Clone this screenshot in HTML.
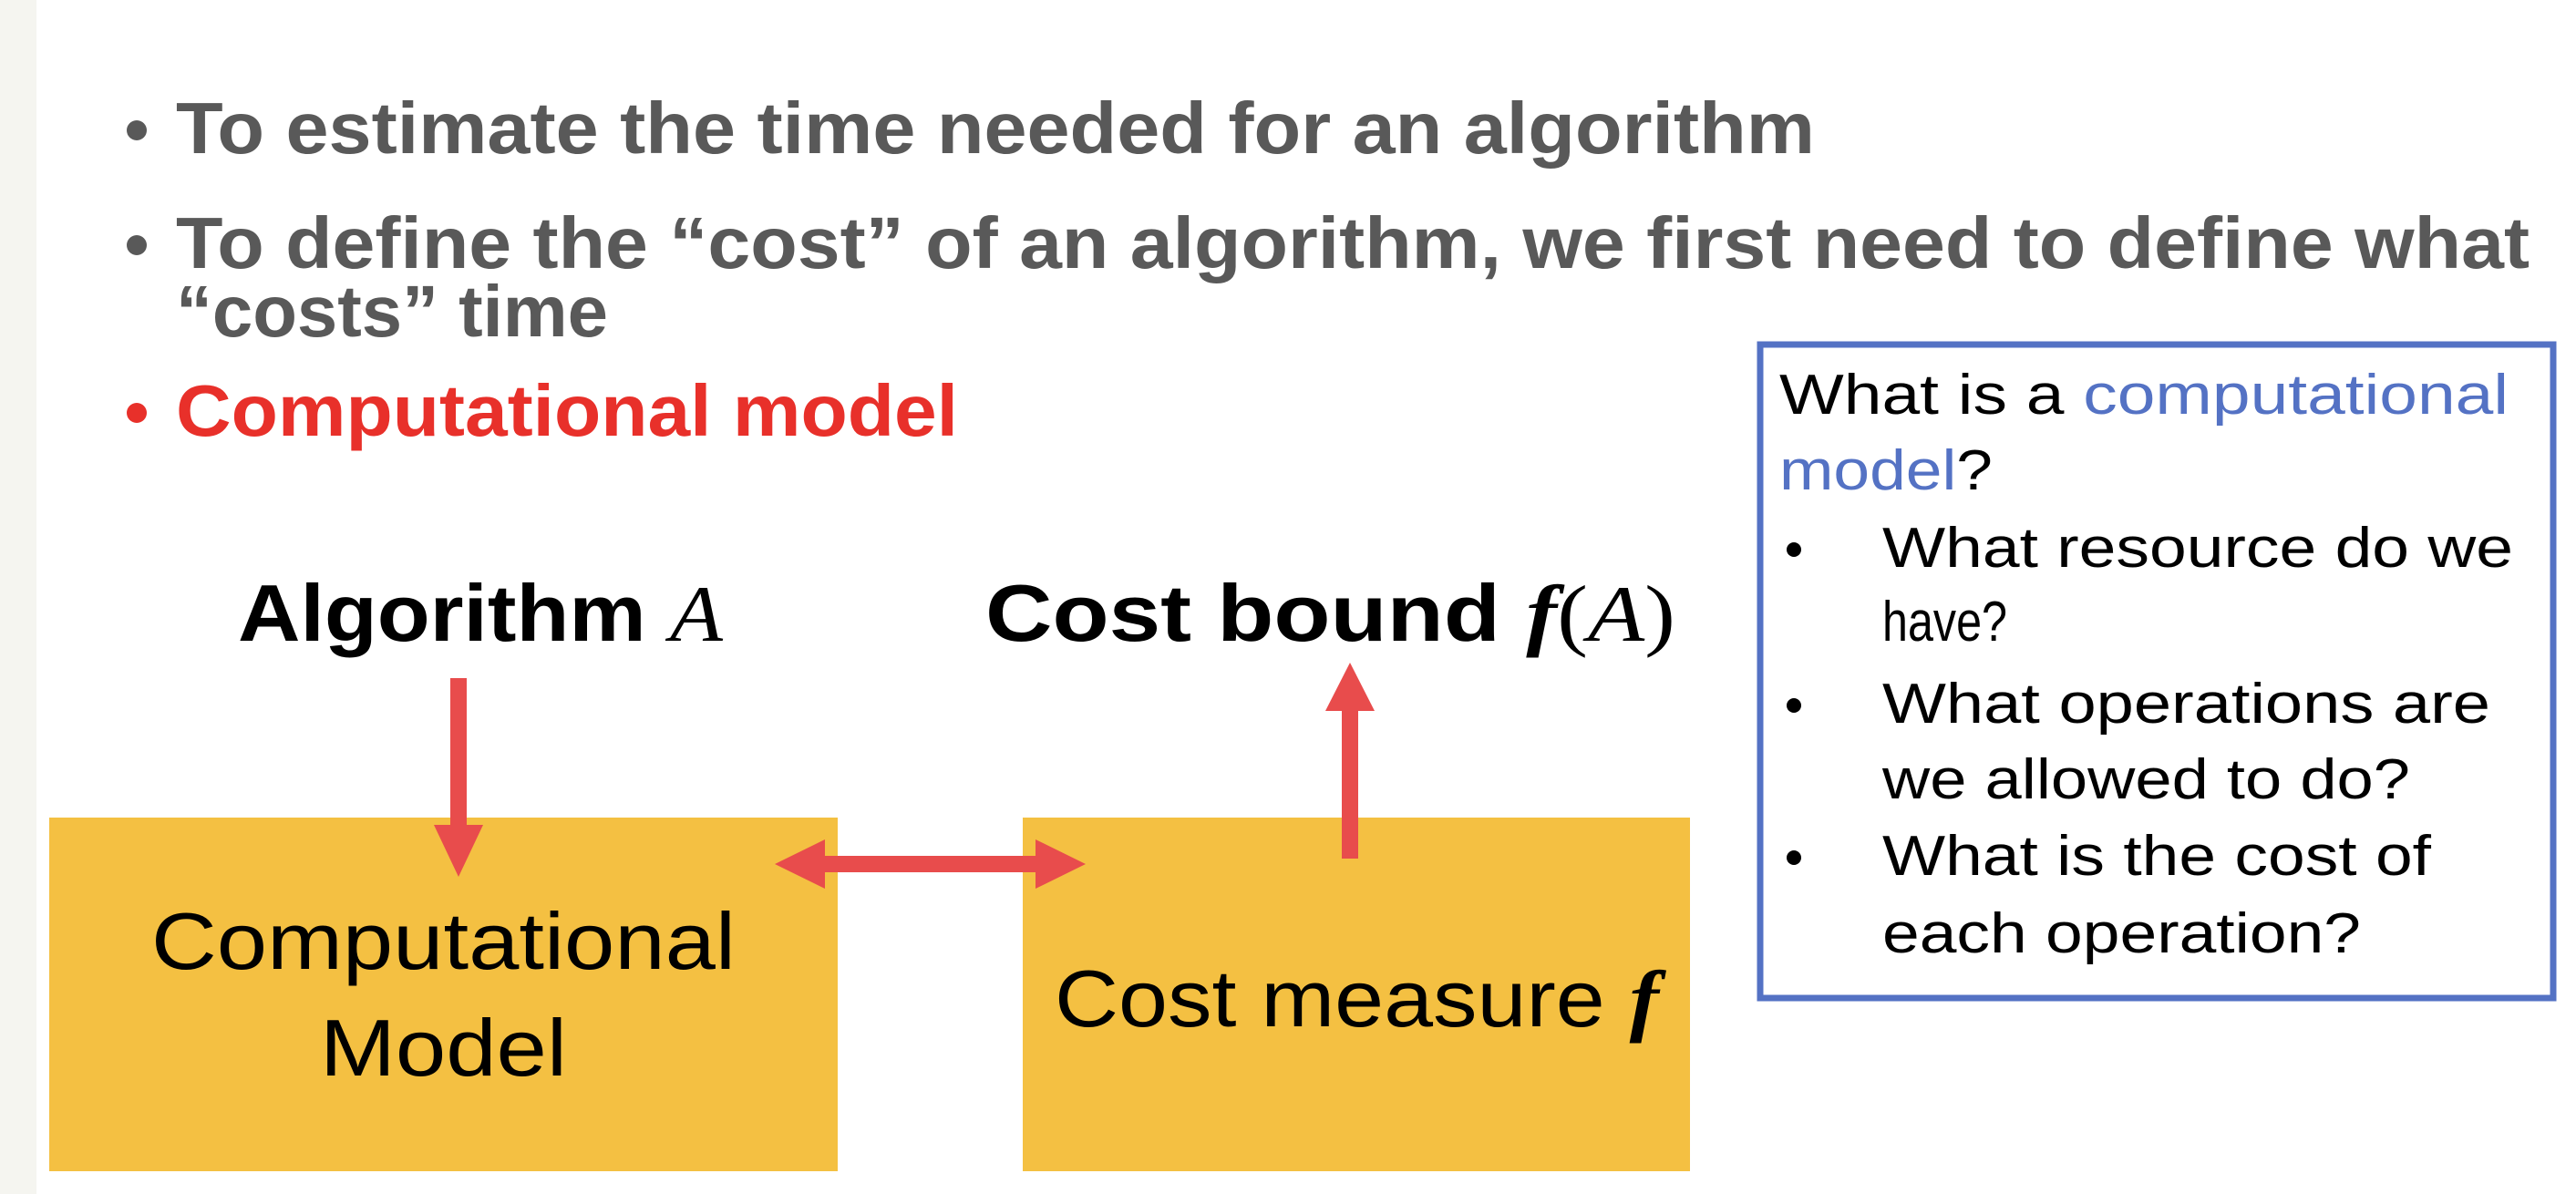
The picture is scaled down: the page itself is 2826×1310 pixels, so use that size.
<!DOCTYPE html>
<html><head><meta charset="utf-8"><style>
html,body{margin:0;padding:0;background:#fff;}
svg{display:block;}
</style></head><body>
<svg width="2826" height="1310" viewBox="0 0 2826 1310" xmlns="http://www.w3.org/2000/svg">
<rect x="0" y="0" width="2826" height="1310" fill="#fff"/>
<rect x="0" y="0" width="40" height="1310" fill="#f5f5f0"/>
<g font-family="Liberation Sans, sans-serif" font-weight="bold" font-size="80">
<circle cx="150" cy="143" r="11" fill="#595959"/>
<text x="193" y="168" fill="#595959" textLength="1798" lengthAdjust="spacingAndGlyphs">To estimate the time needed for an algorithm</text>
<circle cx="150" cy="269" r="11" fill="#595959"/>
<text x="193" y="294" fill="#595959" textLength="2582" lengthAdjust="spacingAndGlyphs">To define the “cost” of an algorithm, we first need to define what</text>
<text x="193" y="369" fill="#595959" textLength="474" lengthAdjust="spacingAndGlyphs">“costs” time</text>
<circle cx="150" cy="453" r="11" fill="#e8302a"/>
<text x="193" y="478" fill="#e8302a" textLength="858" lengthAdjust="spacingAndGlyphs">Computational model</text>
</g>
<rect x="1931" y="378" width="870" height="717" fill="none" stroke="#5472c4" stroke-width="7"/>
<g font-family="Liberation Sans, sans-serif" font-size="62" fill="#000">
<text x="1952" y="454" textLength="800" lengthAdjust="spacingAndGlyphs">What is a <tspan fill="#5472c4">computational</tspan></text>
<text x="1952" y="537" textLength="234" lengthAdjust="spacingAndGlyphs"><tspan fill="#5472c4">model</tspan>?</text>
<circle cx="1968" cy="603" r="8"/>
<text x="2065" y="622" textLength="692" lengthAdjust="spacingAndGlyphs">What resource do we</text>
<text x="2065" y="703" textLength="137" lengthAdjust="spacingAndGlyphs">have?</text>
<circle cx="1968" cy="774" r="8"/>
<text x="2065" y="793" textLength="667" lengthAdjust="spacingAndGlyphs">What operations are</text>
<text x="2065" y="876" textLength="579" lengthAdjust="spacingAndGlyphs">we allowed to do?</text>
<circle cx="1968" cy="941" r="8"/>
<text x="2065" y="960" textLength="602" lengthAdjust="spacingAndGlyphs">What is the cost of</text>
<text x="2065" y="1045" textLength="525" lengthAdjust="spacingAndGlyphs">each operation?</text>
</g>
<rect x="54" y="897" width="865" height="388" fill="#f4c042"/>
<rect x="1122" y="897" width="732" height="388" fill="#f4c042"/>
<g fill="#e84c4c">
<rect x="494" y="744" width="18" height="165"/>
<polygon points="476,905 530,905 503,962"/>
<rect x="1472" y="778" width="18" height="164"/>
<polygon points="1454,780 1508,780 1481,727"/>
<rect x="900" y="939" width="240" height="18"/>
<polygon points="905,921 905,975 850,948"/>
<polygon points="1136,921 1136,975 1191,948"/>
</g>
<g font-family="Liberation Sans, sans-serif" font-size="88" fill="#000">
<text x="261" y="703" font-weight="bold" textLength="532" lengthAdjust="spacingAndGlyphs">Algorithm <tspan font-family="Liberation Serif, serif" font-style="italic" font-weight="normal">A</tspan></text>
<text x="1081" y="703" font-weight="bold" textLength="757" lengthAdjust="spacingAndGlyphs">Cost bound <tspan font-family="Liberation Serif, serif" font-style="italic">f</tspan><tspan font-family="Liberation Serif, serif" font-weight="normal">(</tspan><tspan font-family="Liberation Serif, serif" font-style="italic" font-weight="normal">A</tspan><tspan font-family="Liberation Serif, serif" font-weight="normal">)</tspan></text>
<text x="166" y="1063" textLength="641" lengthAdjust="spacingAndGlyphs">Computational</text>
<text x="351" y="1180" textLength="271" lengthAdjust="spacingAndGlyphs">Model</text>
<text x="1157" y="1126" textLength="663" lengthAdjust="spacingAndGlyphs">Cost measure <tspan font-family="Liberation Serif, serif" font-style="italic" font-weight="bold">f</tspan></text>
</g>
</svg>
</body></html>
